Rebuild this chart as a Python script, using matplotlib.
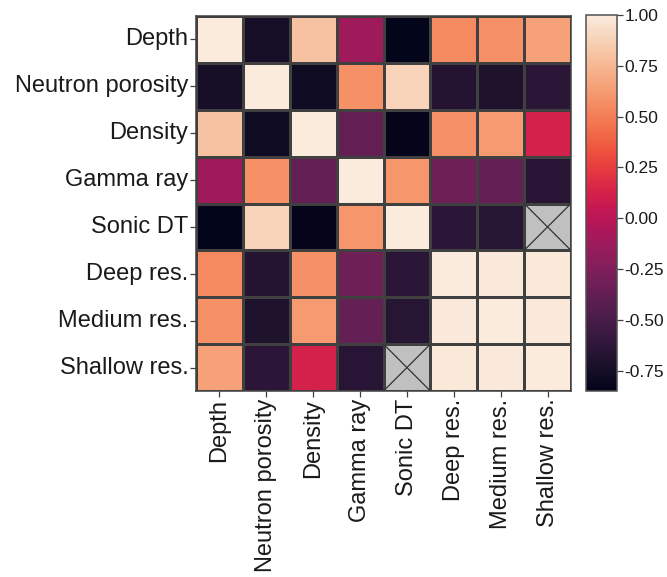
import numpy as np
import matplotlib
matplotlib.use("Agg")
import matplotlib.pyplot as plt
import seaborn as sns

labels = ["Depth", "Neutron porosity", "Density", "Gamma ray", "Sonic DT",
          "Deep res.", "Medium res.", "Shallow res."]

# upper-triangle correlation coefficients, row by row
depth_row = [1.00, -0.74, 0.80, -0.12, -0.85, 0.55, 0.58, 0.65]
nphi_row = [1.00, -0.78, 0.58, 0.88, -0.67, -0.70, -0.64]
rhob_row = [1.00, -0.38, -0.84, 0.58, 0.62, 0.12]
gr_row = [1.00, 0.60, -0.33, -0.37, -0.65]
dt_row = [1.00, -0.64, -0.66, np.nan]
deep_row = [1.00, 0.99, 0.98]
med_row = [1.00, 0.99]
shal_row = [1.00]

rows = [depth_row, nphi_row, rhob_row, gr_row, dt_row, deep_row, med_row, shal_row]
cbar_ticks = [-0.75, -0.50, -0.25, 0.00, 0.25, 0.50, 0.75, 1.00]

n = len(labels)
corr = np.full((n, n), np.nan)
for i, r in enumerate(rows):
    corr[i, i:] = r
    corr[i:, i] = r

plt.rcParams["font.family"] = ["Liberation Sans", "DejaVu Sans"]

fig = plt.figure(figsize=(6.67, 5.77), dpi=100)
W, H = 667, 577
ax = fig.add_axes([196 / W, 1 - 391 / H, 375 / W, 375 / H])
cax = fig.add_axes([586 / W, 1 - 391 / H, 31 / W, 376 / H])

ax.set_facecolor("#c0c0c0")
sns.heatmap(corr, ax=ax, cbar_ax=cax, cmap="rocket", vmin=np.nanmin(corr), vmax=1.0,
            linewidths=0.8, linecolor="#404040", square=False,
            xticklabels=labels, yticklabels=labels)

# cross out the missing cells
for i, j in zip(*np.where(np.isnan(corr))):
    ax.plot([j, j + 1], [i, i + 1], color="#333333", lw=0.9)
    ax.plot([j, j + 1], [i + 1, i], color="#333333", lw=0.9)

for s in ax.spines.values():
    s.set_visible(True)
    s.set_color("#404040")
    s.set_linewidth(1.1)

ax.tick_params(axis="both", length=4, width=0.9, color="#404040", labelsize=17,
               labelcolor="#1a1a1a", pad=1.5)
plt.setp(ax.get_xticklabels(), rotation=90)
plt.setp(ax.get_yticklabels(), rotation=0)

cax.set_yticks(cbar_ticks)
cax.set_yticklabels([f"{v:.2f}" for v in cbar_ticks])
cax.tick_params(length=4, width=0.9, color="#404040", labelsize=12.5,
                labelcolor="#1a1a1a", pad=1.5)
cbar = ax.collections[0].colorbar
cbar.outline.set_visible(True)
cbar.outline.set_edgecolor("#505050")
cbar.outline.set_linewidth(1.1)

fig.savefig("out.png", dpi=100)
